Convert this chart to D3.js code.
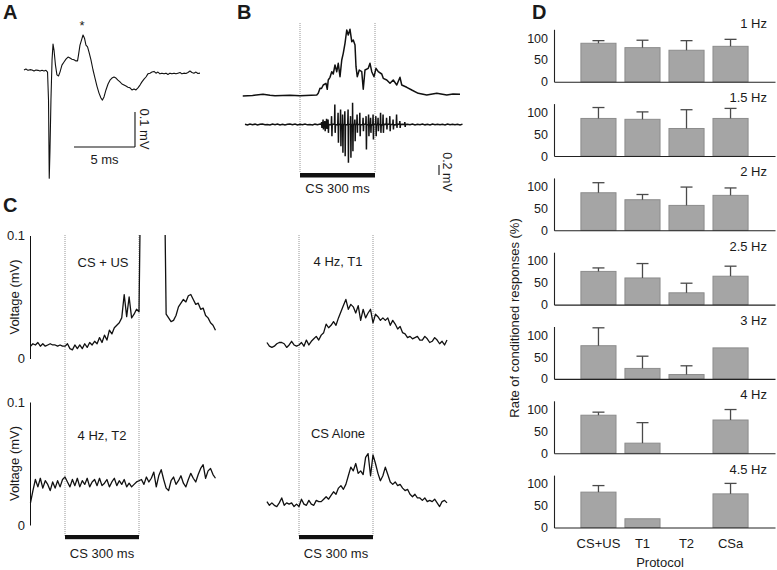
<!DOCTYPE html>
<html><head><meta charset="utf-8">
<script src="https://cdn.jsdelivr.net/npm/d3@7"></script>
<style>
body{margin:0;background:#fff}
svg{display:block}
text{font-family:"Liberation Sans",Arial,Helvetica,sans-serif;fill:#1a1a1a}
</style>
</head><body>
<svg id="fig" width="777" height="570"></svg>
<script>
// ================= DATA =================
// Panel A: averaged unit/field response, [time (ms), voltage (µV)]
const traceA = [[0,0],[0.16,3],[0.33,-1],[0.49,1],[0.66,0],[0.82,-3],[0.98,0],[1.15,-1],[1.31,-3],[1.48,-1],[1.64,-3],[1.8,-1],[1.93,-6],[2.01,-86],[2.07,-309],[2.13,-229],[2.21,-86],[2.3,29],[2.38,74],[2.46,57],[2.58,14],[2.7,-14],[2.83,-17],[2.95,-6],[3.11,14],[3.28,23],[3.44,31],[3.61,37],[3.77,34],[3.93,31],[4.1,29],[4.26,26],[4.39,26],[4.47,43],[4.59,71],[4.72,86],[4.84,100],[4.96,91],[5.08,71],[5.21,66],[5.33,51],[5.49,29],[5.66,0],[5.82,-23],[5.98,-46],[6.15,-66],[6.31,-80],[6.43,-86],[6.56,-77],[6.72,-57],[6.89,-40],[7.05,-29],[7.21,-23],[7.38,-20],[7.54,-23],[7.7,-29],[7.87,-34],[8.03,-40],[8.2,-43],[8.36,-46],[8.52,-49],[8.69,-51],[8.85,-57],[9.02,-54],[9.18,-57],[9.34,-51],[9.51,-43],[9.67,-34],[9.84,-26],[10.0,-20],[10.16,-11],[10.33,-9],[10.49,-6],[10.66,-4],[10.82,-9],[10.98,-6],[11.15,-11],[11.31,-9],[11.48,-11],[11.64,-9],[11.8,-13],[11.97,-9],[12.13,-11],[12.3,-9],[12.46,-11],[12.62,-9],[12.79,-7],[12.95,-11],[13.11,-9],[13.28,-10],[13.44,-7],[13.61,-3],[13.77,-7],[13.93,-9],[14.1,-6],[14.26,-10],[14.43,-9]];
const scaleBarA = {ms: 5, uV: 100};

// Panel B: integrated activity [time (ms), µV]
const traceBUpper = [[-229,0],[-190,10],[-148,34],[-120,14],[-100,6],[-40,14],[0,6],[67,20],[73,54],[80,154],[86,150],[93,220],[104,254],[109,134],[113,320],[120,374],[127,486],[133,440],[140,620],[147,486],[153,654],[160,386],[167,720],[173,854],[180,1054],[187,1320],[193,1220],[200,1334],[207,1086],[213,1120],[220,1020],[224,586],[229,386],[237,520],[247,486],[253,134],[260,520],[273,554],[280,654],[287,486],[296,386],[304,554],[313,486],[327,440],[333,354],[347,320],[360,254],[373,320],[387,220],[400,374],[407,220],[427,174],[447,120],[473,54],[507,20],[547,54],[587,20],[612,40],[640,34]];
// Panel B: unit spikes [time (ms), positive peak (µV), negative peak (µV)]
const spikesB = [[87,47,-67],[93,100,-100],[100,67,-133],[107,113,-87],[113,100,-167],[127,167,-233],[140,400,-167],[153,233,-367],[163,300,-433],[171,200,-567],[180,267,-633],[193,300,-767],[203,167,-667],[211,433,-533],[220,100,-333],[229,200,-167],[240,233,-233],[253,133,-133],[265,167,-500],[275,200,-233],[283,133,-167],[293,200,-300],[304,167,-233],[313,133,-133],[323,233,-167],[333,200,-167],[347,133,-100],[360,167,-133],[373,100,-100],[387,200,-67],[400,67,-67],[420,47,-47]];
// Panel B: baseline noise of raw trace, every 10 ms from -220 ms (µV)
const noiseBStart = -220, noiseBStep = 10;
const noiseB = [6,-8,10,-4,7,-10,3,9,-6,2,-9,8,-3,10,-8,6,-10,4,9,-6,10,-9,4,-5,8,-7,2,-10,7,-4,9,-10,5,8,-6,10,-3,-8,6,-7,9,-5,8,-3,
  5,-9,7,-4,10,-6,3,-8,9,-5,6,-10,4,8,-7,3,-9,10,-5,7,-8,4,-6,9,-10,5,-3,8,-7,6,-9,10,-4,7,-6,3,-8,9,-5,6,-7,4,-10,8];
const scaleBarB_uV = 200;
const csDuration = 300;

// Panel C: averaged traces (µV), sampled every 10 ms
const cStep = 10;
const csUSStart = -140;
const csUS = [10,12,11,13,10,12,10,11,12,11,11,10,11,10,10,
  12,8,7,11,8,11,8,12,9,13,11,14,12,17,13,19,15,23,20,25,27,29,33,52,34,50,33,36,40,38,
  200,200,200,200,200,200,200,200,200,200,
  36,33,30,31,35,42,45,48,46,51,52,48,44,45,40,41,35,33,29,27,23];
const t1Start = -130;
const t1Hz4 = [13,10,9,10,12,13,13,12,9,11,14,11,10,11,
  13,10,15,11,14,16,18,15,19,21,28,25,27,30,27,33,38,43,48,40,44,42,37,43,31,40,33,37,40,29,
  36,34,31,33,31,33,27,31,28,24,26,21,20,17,18,16,17,18,15,15,18,16,13,14,17,15,12,14,11,15];
const t2Start = -140;
const t2Hz4 = [18,28,37,31,38,30,36,33,28,35,30,36,31,37,39,
  35,31,37,32,38,31,36,33,38,31,35,37,32,38,32,34,37,31,35,38,32,36,33,37,31,34,31,33,35,36,
  37,33,39,35,38,43,31,40,45,37,30,28,36,39,33,36,40,34,31,37,42,38,35,41,46,49,38,44,46,41,38];
const csAloneStart = -130;
const csAlone = [19,16,18,16,15,18,22,16,18,17,18,15,17,15,
  21,17,16,20,17,16,20,19,19,21,23,21,24,27,25,30,32,29,33,40,47,44,50,42,44,41,55,58,40,57,
  50,42,36,40,47,41,35,33,35,32,33,30,28,29,25,23,25,22,22,20,22,19,20,19,21,18,15,19,20,18];
const voltTicks = [0, 0.1];

// Panel D: rate of conditioned responses (%)
const protocols = ["CS+US","T1","T2","CSa"];
const freqs = ["1 Hz","1.5 Hz","2 Hz","2.5 Hz","3 Hz","4 Hz","4.5 Hz"];
const rateMeans = [[88,78,72,81],[86,84,63,86],[86,70,57,80],[76,61,27,65],[76,24,10,71],[87,23,0,76],[81,20,0,77]];
const rateErrs  = [[6,17,22,16],[25,17,43,23],[23,12,42,17],[8,33,22,23],[41,28,20,0],[7,47,0,24],[15,0,0,24]];
const rateTicks = [0,50,100];

// ================= DRAWING =================
const svg = d3.select("#fig");
const INK = "#111";

function letter(t, x, y){
  svg.append("text").attr("x",x).attr("y",y).attr("font-size",20).attr("font-weight","bold").text(t);
}
function txt(t, x, y, opts={}){
  const e = svg.append("text").attr("x",x).attr("y",y).attr("font-size",opts.size||13)
    .attr("text-anchor",opts.anchor||"middle").text(t);
  if (opts.rotate) e.attr("transform",`rotate(${opts.rotate},${x},${y})`);
  return e;
}
function seg(x1,y1,x2,y2,stroke,w,dash){
  const l = svg.append("line").attr("x1",x1).attr("y1",y1).attr("x2",x2).attr("y2",y2)
    .attr("stroke",stroke).attr("stroke-width",w);
  if (dash) l.attr("stroke-dasharray",dash);
  return l;
}

letter("A",3,19); letter("B",237,19); letter("C",3,212); letter("D",532,19);

// ---------- Panel A ----------
const xA = d3.scaleLinear().domain([0,14.43]).range([24,200]);
const yA = d3.scaleLinear().domain([0,100]).range([70,35]);
svg.append("path").datum(traceA)
  .attr("d", d3.line().x(d=>xA(d[0])).y(d=>yA(d[1])))
  .attr("fill","none").attr("stroke",INK).attr("stroke-width",1.1).attr("stroke-linejoin","round");
const peakA = traceA.reduce((a,b)=> b[1]>a[1]?b:a);
txt("*", xA(peakA[0])-1, yA(peakA[1])-5, {size:13});
{
  const xe = xA(9.1), xs = xA(9.1 - scaleBarA.ms), yb = 147;
  const hb = yA(0) - yA(scaleBarA.uV);
  seg(xs,yb,xe,yb,INK,1.1);
  seg(xe,yb,xe,yb-hb,INK,1.1);
  txt("5 ms",(xs+xe)/2,164);
  txt("0.1 mV",140,129,{rotate:90});
}

// ---------- Panel B ----------
const xB = d3.scaleLinear().domain([0,csDuration]).range([300,375]);
const yBU = d3.scaleLinear().domain([0,1000]).range([96,46]);
const yBL = d3.scaleLinear().domain([0,1000]).range([124.5,74.5]);
[0,csDuration].forEach(t => seg(xB(t),23,xB(t),173,"#8a8a8a",0.9,"1,1"));
svg.append("path").datum(traceBUpper)
  .attr("d", d3.line().x(d=>xB(d[0])).y(d=>yBU(d[1])))
  .attr("fill","none").attr("stroke",INK).attr("stroke-width",1.5).attr("stroke-linejoin","round");
{
  const pts = noiseB.map((v,i)=>[noiseBStart+i*noiseBStep, v]);
  spikesB.forEach(s => { pts.push([s[0]-2,0],[s[0]-0.7,s[1]],[s[0]+0.7,s[2]],[s[0]+2,0]); });
  pts.sort((a,b)=>a[0]-b[0]);
  svg.append("path").datum(pts)
    .attr("d", d3.line().x(d=>xB(d[0])).y(d=>yBL(d[1])))
    .attr("fill","none").attr("stroke",INK).attr("stroke-width",1.5);
}
svg.append("rect").attr("x",xB(0)).attr("y",173).attr("width",xB(csDuration)-xB(0)).attr("height",4.5).attr("fill",INK);
txt("CS 300 ms",(xB(0)+xB(csDuration))/2,193);
{
  const hb = yBL(0)-yBL(scaleBarB_uV);
  seg(439,175,439,175-hb,INK,1.1);
  txt("0.2 mV",443,172,{size:12.5,rotate:90});
}

// ---------- Panel C ----------
const xCL = d3.scaleLinear().domain([0,csDuration]).range([65,139]);
const xCR = d3.scaleLinear().domain([0,csDuration]).range([299,373]);
const yCT = d3.scaleLinear().domain([0,0.1]).range([358.5,235.5]);
const yCB = d3.scaleLinear().domain([0,0.1]).range([525,402]);

[xCL, xCR].forEach(xs => {
  [0,csDuration].forEach(t => seg(xs(t),235,xs(t),536,"#8a8a8a",0.9,"1,1"));
  svg.append("rect").attr("x",xs(0)).attr("y",535).attr("width",xs(csDuration)-xs(0)).attr("height",4.2).attr("fill",INK);
  txt("CS 300 ms",(xs(0)+xs(csDuration))/2,558);
});

svg.append("clipPath").attr("id","clipCT").append("rect").attr("x",0).attr("y",235).attr("width",240).attr("height",150);

function trace(vals, t0, xs, ys, clip){
  const p = svg.append("path").datum(vals)
    .attr("d", d3.line().x((d,i)=>xs(t0+i*cStep)).y(d=>ys(d/1000)))
    .attr("fill","none").attr("stroke",INK).attr("stroke-width",1.3).attr("stroke-linejoin","round");
  if (clip) p.attr("clip-path","url(#clipCT)");
}
trace(csUS, csUSStart, xCL, yCT, true);
trace(t1Hz4, t1Start, xCR, yCT, false);
trace(t2Hz4, t2Start, xCL, yCB, false);
trace(csAlone, csAloneStart, xCR, yCB, false);

function vAxis(ys){
  const g = svg.append("g").attr("transform","translate(30,0)")
    .call(d3.axisLeft(ys).tickValues(voltTicks).tickSize(0).tickPadding(5).tickFormat(d3.format("~g")));
  g.select(".domain").attr("stroke",INK).attr("stroke-width",1);
  g.selectAll("text").attr("font-size",13).attr("font-family",null).attr("fill","#1a1a1a");
  const mid = (ys.range()[0]+ys.range()[1])/2;
  txt("Voltage (mV)",18.5,mid,{rotate:-90});
}
vAxis(yCT); vAxis(yCB);

txt("CS + US",103,267);
txt("4 Hz, T1",338,266);
txt("4 Hz, T2",102,440);
txt("CS Alone",338,438);

// ---------- Panel D ----------
const xD = d3.scaleBand().domain(protocols).range([554,775]).paddingInner(0.18).paddingOuter(0.6);
const bw = xD.bandwidth();
freqs.forEach((f,i) => {
  const base = 81.7 + i*74.3;
  const y = d3.scaleLinear().domain([0,120]).range([base, base-52.4]);
  const g = svg.append("g");
  protocols.forEach((p,j) => {
    const m = rateMeans[i][j], e = rateErrs[i][j];
    if (m > 0) {
      g.append("rect").attr("x",xD(p)+0.5).attr("y",y(m)).attr("width",bw-1).attr("height",y(0)-y(m))
        .attr("fill","#a5a5a5").attr("stroke","#8c8c8c").attr("stroke-width",1);
    }
    if (e > 0) {
      const cx = xD(p)+bw/2;
      g.append("line").attr("x1",cx).attr("x2",cx).attr("y1",y(m)).attr("y2",y(m+e)).attr("stroke","#4a4a4a").attr("stroke-width",1.3);
      g.append("line").attr("x1",cx-6).attr("x2",cx+6).attr("y1",y(m+e)).attr("y2",y(m+e)).attr("stroke","#4a4a4a").attr("stroke-width",1.3);
    }
  });
  const ga = svg.append("g").attr("transform","translate(554,0)")
    .call(d3.axisLeft(y).tickValues(rateTicks).tickSize(0).tickPadding(6));
  ga.select(".domain").attr("stroke","#222").attr("stroke-width",1.1);
  ga.selectAll("text").attr("font-size",12.5).attr("font-family",null).attr("fill","#1a1a1a");
  const gb = svg.append("g").attr("transform",`translate(0,${base})`)
    .call(d3.axisBottom(xD).tickSize(0).tickPadding(11));
  gb.select(".domain").attr("stroke","#222").attr("stroke-width",1.1);
  if (i < freqs.length-1) gb.selectAll("text").remove();
  else gb.selectAll("text").attr("font-size",13).attr("font-family",null).attr("fill","#1a1a1a");
  txt(f,767,base-54,{anchor:"end"});
});
txt("Protocol",660,567);
txt("Rate of conditioned responses (%)",519,318,{rotate:-90});
</script>
</body></html>
